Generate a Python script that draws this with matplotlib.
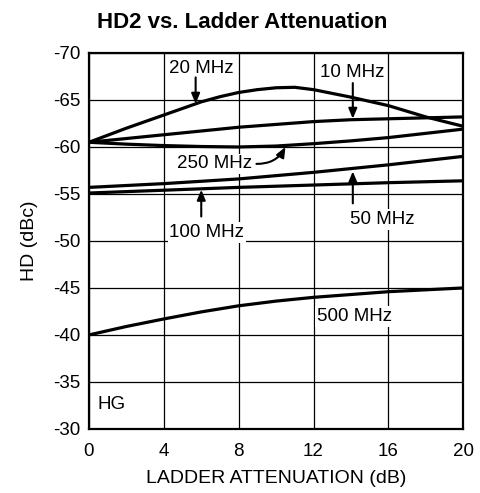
import matplotlib
matplotlib.use("Agg")
import matplotlib.pyplot as plt

plt.rcParams['font.family'] = ['Liberation Sans', 'DejaVu Sans']
plt.rcParams['axes.unicode_minus'] = False

# Data
x_20 = [0, 2, 4, 6, 7, 8, 9, 10, 11, 12, 14, 16, 18, 20]
y_20 = [-60.5, -62.0, -63.4, -64.8, -65.35, -65.8, -66.1, -66.3, -66.35, -66.1, -65.3, -64.4, -63.2, -62.2]

x_10 = [0, 2, 4, 6, 8, 10, 12, 14, 16, 18, 20]
y_10 = [-60.5, -60.9, -61.3, -61.7, -62.1, -62.4, -62.7, -62.9, -63.0, -63.1, -63.2]

x_250 = [0, 2, 4, 6, 8, 10, 12, 14, 16, 18, 20]
y_250 = [-60.5, -60.3, -60.15, -60.05, -60.0, -60.1, -60.35, -60.65, -61.0, -61.45, -61.9]

x_50 = [0, 4, 8, 12, 16, 20]
y_50 = [-55.7, -56.1, -56.6, -57.3, -58.1, -59.0]

x_100 = [0, 4, 8, 12, 16, 20]
y_100 = [-55.1, -55.4, -55.7, -55.95, -56.2, -56.4]

x_500 = [0, 2, 4, 6, 8, 10, 12, 14, 16, 18, 20]
y_500 = [-40.0, -40.9, -41.7, -42.45, -43.1, -43.6, -44.0, -44.3, -44.6, -44.8, -45.0]

x_ticks = [0, 4, 8, 12, 16, 20]
y_ticks = [-70, -65, -60, -55, -50, -45, -40, -35, -30]

fig = plt.figure(figsize=(4.81, 4.93), dpi=100)
ax = fig.add_axes([0.185, 0.130, 0.778, 0.7625])

for xs, ys in [(x_20, y_20), (x_10, y_10), (x_250, y_250),
               (x_50, y_50), (x_100, y_100), (x_500, y_500)]:
    ax.plot(xs, ys, color='black', lw=2.3, zorder=4, solid_capstyle='butt')

ax.set_xlim(0, 20)
ax.set_ylim(-30, -70)
ax.set_xticks(x_ticks)
ax.set_yticks(y_ticks)
ax.tick_params(length=0, labelsize=13.5)
ax.tick_params(axis='x', pad=10)
ax.tick_params(axis='y', pad=6)
ax.grid(True, color='black', lw=0.9, zorder=1)
ax.set_axisbelow(True)
for s in ax.spines.values():
    s.set_linewidth(1.6)

ax.set_xlabel('LADDER ATTENUATION (dB)', fontsize=14)
ax.set_ylabel('HD (dBc)', fontsize=14)
ax.xaxis.set_label_coords(0.5, -0.11)
ax.yaxis.set_label_coords(-0.135, 0.5)
fig.text(0.503, 0.955, 'HD2 vs. Ladder Attenuation', ha='center', va='center',
         fontsize=16, fontweight='bold')

bbox = dict(boxstyle='square,pad=0.1', fc='white', ec='none')
arrow = dict(arrowstyle='-|>,head_length=0.6,head_width=0.25', color='black', lw=1.5,
             shrinkA=0, shrinkB=0)
fs = 13.5

def arrow_to(xy, xytext, conn=None):
    ap = dict(arrow)
    if conn:
        ap['connectionstyle'] = conn
    ax.annotate('', xy=xy, xytext=xytext, arrowprops=ap, zorder=5)

ax.text(6.0, -68.4, '20 MHz', ha='center', va='center', fontsize=fs, bbox=bbox, zorder=3)
arrow_to((5.7, -64.6), (5.7, -67.4))
ax.text(14.05, -67.9, '10 MHz', ha='center', va='center', fontsize=fs, bbox=bbox, zorder=3)
arrow_to((14.1, -63.0), (14.1, -66.8))
ax.text(6.7, -58.2, '250 MHz', ha='center', va='center', fontsize=fs, bbox=bbox, zorder=3)
arrow_to((10.5, -60.0), (8.95, -58.2), conn='arc3,rad=0.3')
ax.text(6.3, -50.9, '100 MHz', ha='center', va='center', fontsize=fs, bbox=bbox, zorder=3)
arrow_to((6.0, -55.45), (6.0, -52.6))
ax.text(15.7, -52.3, '50 MHz', ha='center', va='center', fontsize=fs, bbox=bbox, zorder=3)
arrow_to((14.1, -57.4), (14.1, -54.0))
ax.text(14.2, -42.0, '500 MHz', ha='center', va='center', fontsize=fs, bbox=bbox, zorder=3)
ax.text(0.43, -32.6, 'HG', ha='left', va='center', fontsize=fs, zorder=3)

fig.savefig('out.png', dpi=100)
